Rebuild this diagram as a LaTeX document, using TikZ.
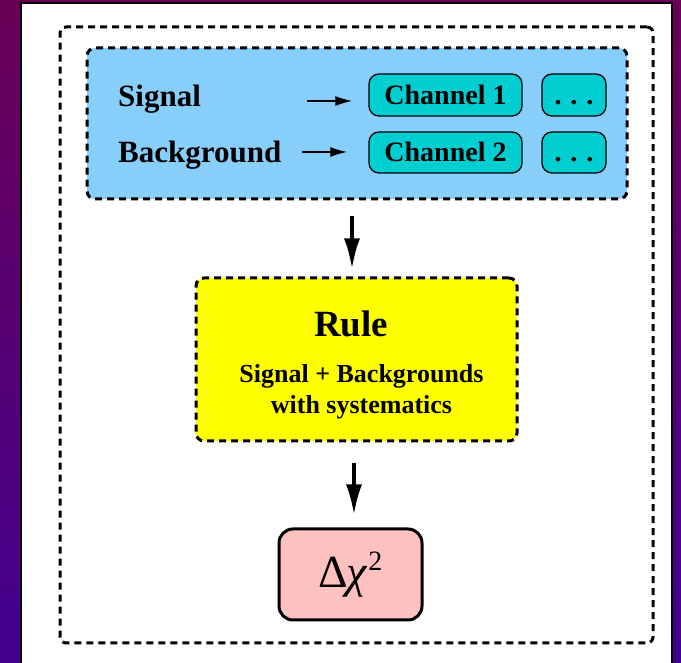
\documentclass[tikz,border=0pt]{standalone}
\usepackage{fontspec}
\setmainfont{Liberation Serif}
\usepackage{tikz}
\usetikzlibrary{arrows.meta}

\definecolor{bgtop}{RGB}{106,0,86}
\definecolor{bgbottom}{RGB}{66,0,142}
\definecolor{sigblue}{RGB}{135,206,250}
\definecolor{chancyan}{RGB}{0,206,209}
\definecolor{ruleyellow}{RGB}{255,255,0}
\definecolor{chipink}{RGB}{255,192,192}

\tikzset{
    dashbox/.style={draw, line width=3pt, dash pattern=on 7pt off 5pt, rounded corners=8pt},
    chanbox/.style={draw, line width=1.3pt, fill=chancyan, rounded corners=10pt, inner sep=0pt,
        text height=19pt, text depth=0pt, font=\fontsize{28}{30}\selectfont\bfseries},
    label/.style={anchor=base west, inner sep=0pt, font=\fontsize{31}{34}\selectfont\bfseries},
    smallarrow/.style={-{Latex[length=17pt,width=10pt]}, line width=1.8pt},
    bigarrow/.style={-{Latex[length=31pt,width=16pt]}, line width=4pt}
}

\begin{document}
\begin{tikzpicture}[x=1pt,y=1pt]
    \useasboundingbox (0,0) rectangle (681,663);
    \shade[top color=bgtop, bottom color=bgbottom] (0,0) rectangle (681,663);
    \draw[line width=2.5pt, fill=white] (21,-5) rectangle (672,660);

    % outer frame
    \node[dashbox, rounded corners=6pt, minimum width=593pt, minimum height=616pt] (frame) at (356.5,328) {};

    % inputs
    \node[dashbox, fill=sigblue, minimum width=540pt, minimum height=151pt] (input) at (357,539.5) {};
    \node[label] (signal) at (118,556) {Signal};
    \node[label] (backgr) at (118,500) {Background};
    \node[chanbox, minimum width=153pt, minimum height=42pt] (chan1) at (445.5,568) {Channel 1};
    \node[chanbox, minimum width=153pt, minimum height=41pt] (chan2) at (445.5,510.5) {Channel 2};
    \node[chanbox, minimum width=64pt, minimum height=42pt] (dots1) at (574,568) {.\hspace{9pt}.\hspace{9pt}.};
    \node[chanbox, minimum width=64pt, minimum height=41pt] (dots2) at (574,510.5) {.\hspace{9pt}.\hspace{9pt}.};
    \coordinate (sigtail) at (307,562);
    \coordinate (bkgtail) at (302,511);
    \draw[smallarrow, shorten >=16pt] (sigtail) -- (sigtail -| chan1.west);
    \draw[smallarrow, shorten >=21pt] (bkgtail) -- (bkgtail -| chan2.west);

    % rule
    \node[dashbox, fill=ruleyellow, minimum width=321pt, minimum height=163pt] (rule) at (356.5,303.5) {};
    \node[inner sep=0pt, font=\fontsize{37}{40}\selectfont\bfseries] (ruletitle) at (351,339) {Rule};
    \node[inner sep=0pt, align=center, font=\fontsize{26}{31}\selectfont\bfseries] (ruletext) at (361.5,271) {Signal + Backgrounds\\with systematics};

    % result
    \node[draw, line width=3pt, fill=chipink, rounded corners=14pt, minimum width=143pt, minimum height=91pt,
        font=\fontsize{46}{50}\selectfont] (chi) at (350.5,88.5)
        {Δ\hspace{-2pt}\textit{χ}\hspace{1pt}\raisebox{17pt}{\fontsize{28}{28}\selectfont 2}};

    \draw[bigarrow] ([xshift=-5pt,yshift=-16pt]input.south) -- ([xshift=-4.5pt,yshift=7pt]rule.north);
    \draw[bigarrow] ([xshift=-2.5pt,yshift=-21pt]rule.south) -- ([xshift=3.5pt,yshift=12pt]chi.north);
\end{tikzpicture}
\end{document}
